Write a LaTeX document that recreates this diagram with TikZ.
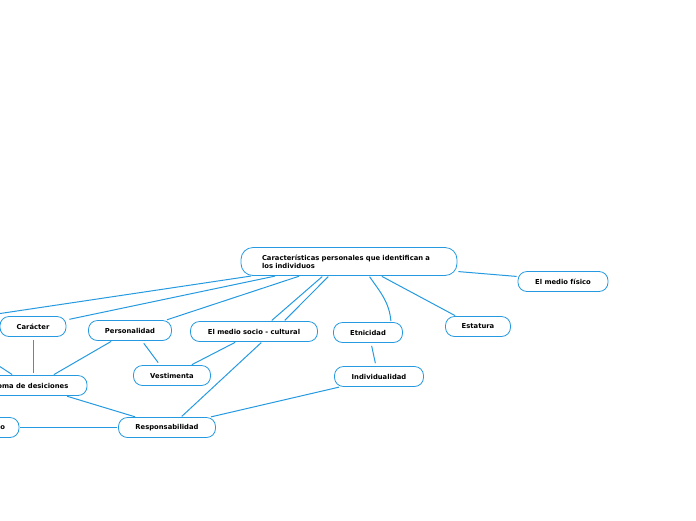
\documentclass[tikz,border=0pt]{standalone}
\usepackage{fontspec}
\setmainfont{DejaVu Sans}
\usepackage{tikz}
\usetikzlibrary{positioning,calc}
\usepackage{xcolor}
\definecolor{mapblue}{RGB}{38,154,224}

\begin{document}
\begin{tikzpicture}[
    x=1pt, y=-1pt,
    topic/.style = {rectangle, draw=mapblue, line width=0.8pt, fill=white, rounded corners=9pt, minimum height=20pt, inner sep=2pt, align=center, font=\fontsize{6.8}{8}\selectfont\bfseries},
    link/.style = {draw=mapblue, line width=1pt, shorten <=1pt, shorten >=1pt}
]
    % 0. Page frame (reference size)
    \useasboundingbox (0,0) rectangle (696,520);
    \fill [white] (0,0) rectangle (696,520);
    \clip (0,0) rectangle (696,520);

    % 1. Central topic
    \node [topic, minimum width=216pt, minimum height=28pt, rounded corners=12pt, text width=174pt, align=left] (root) at (349,261.5)
        {Características personales que identifican a\\los individuos};

    % 2. First level topics
    \node [topic, minimum width=90pt] (fisico) at (563,281.5) {El medio físico};
    \node [topic, minimum width=65pt] (estatura) at (478,326.5) {Estatura};
    \node [topic, minimum width=69pt] (etnicidad) at (368,332.5) {Etnicidad};
    \node [topic, minimum width=127pt] (socio) at (254,331.5) {El medio socio - cultural};
    \node [topic, minimum width=83pt] (personalidad) at (130,330.5) {Personalidad};
    \node [topic, minimum width=66pt] (caracter) at (33,326.5) {Carácter};

    % 3. Second level topics
    \node [topic, minimum width=89pt] (individualidad) at (379,376.5) {Individualidad};
    \node [topic, minimum width=77pt] (vestimenta) at (172,375.5) {Vestimenta};
    \node [topic, minimum width=112pt] (toma) at (31,385.5) {Toma de desiciones};
    \node [topic, minimum width=80pt, text width=52pt, align=right] (cortado) at (-21,427.5) {o};

    \node [topic, minimum width=97pt] (responsabilidad) at (167,427.5) {Responsabilidad};

    % 4. Off-page ends
    \coordinate (fuera1) at (-30,318);
    \coordinate (fuera2) at (-30,347);

    % 5. Connections from the central topic
    \draw [link] ([yshift=-10pt]root.east) -- ([yshift=5pt]fisico.west);
    \draw [link] ([xshift=32pt]root.south) -- ([xshift=-22pt]estatura.north);
    \draw [link] ([xshift=20pt]root.south) to[out=-55, in=95] ([xshift=23pt]etnicidad.north);
    \draw [link] ([xshift=-20pt]root.south) -- ([xshift=30pt]socio.north);
    \draw [link] ([xshift=-26pt]root.south) -- ([xshift=17pt]socio.north);
    \draw [link] ([xshift=-49pt]root.south) -- ([xshift=36pt]personalidad.north);
    \draw [link] ([xshift=-73pt]root.south) -- ([xshift=2pt,yshift=7pt]caracter.east);
    \draw [link] ([xshift=-97pt]root.south) -- (fuera1);

    % 6. Other connections
    \draw [link] (fuera2) -- ([xshift=-18pt]toma.north);
    \draw [link, shorten <=3pt, shorten >=2pt] (caracter.south) -- ([xshift=2pt]toma.north);
    \draw [link] ([xshift=-18pt]personalidad.south) -- ([xshift=22pt]toma.north);
    \draw [link, shorten <=3pt, shorten >=3pt] ([xshift=12pt]personalidad.south) -- ([xshift=-12pt]vestimenta.north);
    \draw [link] ([xshift=-18pt]socio.south) -- ([xshift=19pt]vestimenta.north);
    \draw [link] ([xshift=8pt]socio.south) -- ([xshift=14pt]responsabilidad.north);
    \draw [link, shorten <=3pt, shorten >=3pt] ([xshift=3pt]etnicidad.south) -- ([xshift=-3pt]individualidad.north);
    \draw [link] ([xshift=-39pt]individualidad.south) -- ([xshift=43pt]responsabilidad.north);
    \draw [link] ([xshift=35pt]toma.south) -- ([xshift=-31pt]responsabilidad.north);
    \draw [link] (cortado.east) -- (responsabilidad.west);
\end{tikzpicture}
\end{document}
